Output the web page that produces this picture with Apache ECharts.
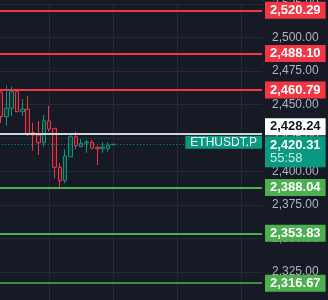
<!DOCTYPE html>
<html>
<head>
<meta charset="utf-8">
<script src="https://cdn.jsdelivr.net/npm/echarts@6/dist/echarts.min.js"></script>
<style>
html, body { margin: 0; padding: 0; background: #161a25; }
#main { width: 328px; height: 300px; }
</style>
</head>
<body>
<div id="main"></div>
<script>
// bar index on the time axis (one tick every 12 bars)
var bars   = [3, 4, 5, 6, 7, 8, 9, 10, 11, 12, 13, 14, 15, 16, 17, 18, 19, 20, 21, 22, 23, 24];
var opens  = [2459.3, 2440.9, 2447.2, 2459.6, 2444.6, 2446.6, 2429.0, 2427.2, 2421.5, 2437.7, 2432.2,
              2403.1, 2393.1, 2411.0, 2426.0, 2418.5, 2421.3, 2421.8, 2418.1, 2417.0, 2417.0, 2420.0];
var closes = [2440.9, 2447.2, 2459.6, 2444.6, 2446.6, 2428.5, 2427.2, 2421.5, 2437.9, 2431.7, 2403.1,
              2393.1, 2411.6, 2426.0, 2419.3, 2421.0, 2422.0, 2417.3, 2417.0, 2418.1, 2419.8, 2420.31];
var lows   = [2436.2, 2434.2, 2441.4, 2444.4, 2441.6, 2426.5, 2415.5, 2412.3, 2418.5, 2429.7, 2394.9,
              2386.9, 2391.2, 2411.0, 2416.6, 2418.5, 2414.0, 2416.6, 2404.9, 2414.0, 2414.8, 2419.9];
var highs  = [2459.6, 2464.0, 2463.3, 2460.8, 2454.1, 2456.6, 2436.4, 2437.7, 2442.2, 2448.9, 2432.5,
              2406.3, 2416.6, 2427.8, 2429.7, 2424.0, 2423.5, 2423.5, 2419.0, 2421.8, 2421.8, 2420.5];

var redLevels   = [2520.29, 2488.10, 2460.79];
var greenLevels = [2388.04, 2353.83, 2316.67];
var markPrice   = 2428.24;
var lastPrice   = 2420.31;
var countdown   = '55:58';
var symbolName  = 'ETHUSDT.P';

var UP = '#089981', DOWN = '#f23645', GREEN = '#4caf50';
var FONT = '"Liberation Sans", Arial, sans-serif';

function fmt(v) {
    return v.toLocaleString('en-US', {minimumFractionDigits: 2, maximumFractionDigits: 2});
}

var candles = [];
for (var i = 0; i < bars.length; i++) {
    candles.push([bars[i], opens[i], closes[i], lows[i], highs[i]]);
}

function levelLine(v, lineColor, boxColor, textColor) {
    return {
        yAxis: v,
        lineStyle: {color: lineColor, width: 2, type: 'solid'},
        label: {
            show: true, position: 'end', distance: 3,
            formatter: fmt(v),
            backgroundColor: boxColor, color: textColor,
            fontFamily: FONT, fontSize: 13, fontWeight: 'bold',
            lineHeight: 13, padding: [2, 5, 2, 5]
        }
    };
}

var lines = [];
redLevels.forEach(function (v) { lines.push(levelLine(v, DOWN, DOWN, '#ffffff')); });
greenLevels.forEach(function (v, i) {
    lines.push(levelLine(v, i === 2 ? '#3e8e43' : GREEN, GREEN, '#ffffff'));
});
// mark price tag gets pushed up so it does not cover the last price tag
var markLine = levelLine(markPrice, '#d1d4dc', '#ffffff', '#131722');
markLine.label.offset = [0, -7];
lines.push(markLine);
// last price: dotted line with symbol tag
lines.push({
    yAxis: lastPrice,
    lineStyle: {color: UP, width: 1, type: [1, 2.3]},
    label: {
        show: true, position: 'insideEnd', distance: 0,
        formatter: symbolName, offset: [0, -2],
        backgroundColor: UP, color: '#ffffff',
        fontFamily: FONT, fontSize: 12, lineHeight: 12, padding: [0, 5, 1, 5]
    }
});
// last price box on the scale with countdown
lines.push({
    yAxis: lastPrice,
    lineStyle: {width: 0, color: 'transparent'},
    label: {
        show: true, position: 'end', distance: 3,
        verticalAlign: 'top',
        formatter: '{a|' + fmt(lastPrice) + '}\n{b|' + countdown + '}',
        backgroundColor: UP, padding: [2, 5, 2, 5], offset: [0, -8],
        rich: {
            a: {color: '#ffffff', fontFamily: FONT, fontSize: 13, fontWeight: 'bold', lineHeight: 14},
            b: {color: '#c8ece5', fontFamily: FONT, fontSize: 13, lineHeight: 13}
        }
    }
});

var myChart = echarts.init(document.getElementById('main'));

var option = {
    backgroundColor: '#161a25',
    animation: false,
    grid: {left: -15.05, right: 66, top: 4, bottom: -5.5, outerBoundsMode: 'none', containLabel: false},
    xAxis: {
        type: 'value',
        min: 0, max: 51.79, interval: 12,
        axisLine: {show: false}, axisTick: {show: false}, axisLabel: {show: false},
        splitLine: {show: true, showMinLine: false, showMaxLine: false, lineStyle: {color: '#262a36', width: 1}}
    },
    yAxis: {
        type: 'value', position: 'right',
        min: 2300, max: 2525, interval: 25,
        axisLine: {show: false}, axisTick: {show: false},
        axisLabel: {
            margin: 10, color: '#b2b5be', fontFamily: FONT, fontSize: 12,
            formatter: function (v) { return fmt(v); }
        },
        splitLine: {show: true, lineStyle: {color: '#262a36', width: 1}}
    },
    series: [{
        type: 'candlestick',
        data: candles,
        encode: {x: 0, y: [1, 2, 3, 4]},
        barWidth: 4,
        itemStyle: {
            color: '#12352f', color0: '#3a1a24',
            borderColor: UP, borderColor0: DOWN, borderWidth: 1
        },
        markLine: {
            silent: true,
            symbol: 'none',
            animation: false,
            data: lines
        }
    }]
};
myChart.setOption(option);
window.onresize = myChart.resize;
</script>
</body>
</html>
